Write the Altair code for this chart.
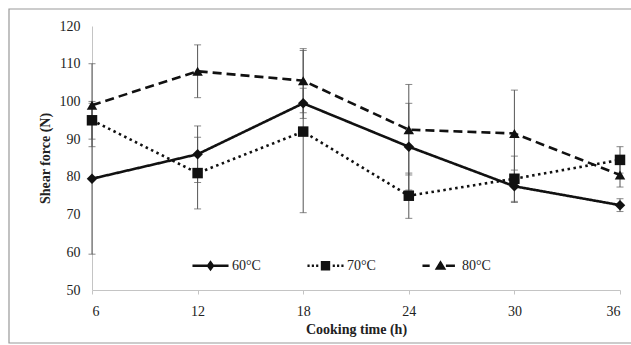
import altair as alt
import pandas as pd

times = [6, 12, 18, 24, 30, 36]
series_names = ["60°C", "70°C", "80°C"]
v60 = [79.5, 86, 99.5, 88, 77.5, 72.5]
v70 = [95, 81, 92, 75, 79.5, 84.5]
v80 = [99, 108, 105.5, 92.5, 91.5, 80.5]
e60 = [20, 7.5, 4, 11.5, 4.3, 1.7]
e70 = [5, 9.5, 21.5, 6, 6, 3.5]
e80 = [11, 7, 8.5, 12, 11.5, 3.2]
y_ticks = [50, 60, 70, 80, 90, 100, 110, 120]

rows = []
for name, vals, errs in zip(series_names, [v60, v70, v80], [e60, e70, e80]):
    for t, v, e in zip(times, vals, errs):
        rows.append({"series": name, "time": t, "value": v, "err": e})
df = pd.DataFrame(rows)

FONT = "Liberation Serif, Times New Roman, serif"
W, H = 528, 264

base = alt.Chart(df).transform_calculate(
    lo="datum.value - datum.err", hi="datum.value + datum.err"
)

yscale = alt.Scale(domain=[50, 120], nice=False, zero=False)
xscale = alt.Scale(domain=[6, 36], nice=False, zero=False)


def yaxis():
    return alt.Axis(values=y_ticks, title="Shear force (N)", labelOverlap=False,
                    labelFont=FONT, titleFont=FONT)


def xaxis():
    return alt.Axis(values=times, title="Cooking time (h)", labelOverlap=False,
                    labelFont=FONT, titleFont=FONT)


def X():
    return alt.X("time:Q", scale=xscale, axis=xaxis())


def Y(field):
    return alt.Y(field, scale=yscale, axis=yaxis())


err_rule = base.mark_rule(color="#555", strokeWidth=1).encode(
    x=X(), y=Y("lo:Q"), y2="hi:Q"
)
cap_lo = base.mark_tick(color="#555", thickness=1, size=7, orient="horizontal").encode(x=X(), y=Y("lo:Q"))
cap_hi = base.mark_tick(color="#555", thickness=1, size=7, orient="horizontal").encode(x=X(), y=Y("hi:Q"))

lines = base.mark_line(color="#111", strokeWidth=2.6).encode(
    x=X(), y=Y("value:Q"),
    strokeDash=alt.StrokeDash("series:N", scale=alt.Scale(domain=series_names,
                              range=[[1, 0], [2.5, 3.5], [9, 5]]), legend=None),
    detail="series:N",
)

points = base.mark_point(filled=True, color="#111", opacity=1).encode(
    x=X(), y=Y("value:Q"),
    shape=alt.Shape("series:N", scale=alt.Scale(domain=series_names,
                    range=["diamond", "square", "triangle-up"]), legend=None),
    size=alt.Size("series:N", scale=alt.Scale(domain=series_names, range=[110, 110, 130]), legend=None),
)


def rect(x0, x1, y0, y1):
    return f"M{x0},{y0}L{x1},{y0}L{x1},{y1}L{x0},{y1}Z"


t = 0.07
p60 = rect(-1, 1, -t, t) + "M0,-0.3L0.22,0L0,0.3L-0.22,0Z"
p70 = "".join(rect(c - 0.06, c + 0.06, -t, t) for c in [-0.94, -0.7, -0.46, 0.46, 0.7, 0.94]) + rect(-0.26, 0.26, -0.26, 0.26)
p80 = rect(-1, -0.6, -t, t) + "M0.0,-0.3L0.32,0.22L-0.32,0.22Z" + rect(0.3, 0.8, -t, t)

legend_layer = alt.Chart(df).transform_filter("datum.time < 0").mark_point(
    filled=True, color="#111", opacity=1
).encode(
    x=X(), y=Y("value:Q"),
    shape=alt.Shape("series:N", title=None, scale=alt.Scale(domain=series_names, range=[p60, p70, p80]),
                    legend=alt.Legend(orient="none", legendX=100, legendY=221, direction="horizontal",
                                      symbolSize=1300, symbolStrokeWidth=0, symbolFillColor="#111",
                                      symbolOpacity=1, labelFont=FONT, labelFontSize=14,
                                      labelColor="#222", labelOffset=3, columnPadding=46,
                                      title=None)),
)

frame = alt.Chart(pd.DataFrame({"a": [0]})).mark_rect(
    fillOpacity=0, stroke="#999", strokeWidth=1.2
).encode(x=alt.value(-83), x2=alt.value(560), y=alt.value(-17), y2=alt.value(317))

chart = alt.layer(err_rule, cap_lo, cap_hi, lines, points, legend_layer, frame).resolve_scale(
    shape="independent"
).properties(
    width=W, height=H,
    autosize=alt.AutoSizeParams(type="none"),
    padding={"left": 92, "top": 26, "right": 11, "bottom": 55},
    background="white",
).configure(font=FONT).configure_view(strokeWidth=0).configure_axis(
    grid=False, labelFont=FONT, titleFont=FONT, labelFontSize=14, titleFontSize=14,
    labelColor="#222", titleColor="#222", domainColor="#c4c4c4", tickColor="#c4c4c4",
    titleFontWeight="bold", labelOverlap=False,
).configure_axisY(
    ticks=False, labelPadding=12, titlePadding=7
).configure_axisX(
    tickSize=4, labelPadding=10, titlePadding=4
)

chart.save("out.html", embed_options={"renderer": "svg", "actions": False})
